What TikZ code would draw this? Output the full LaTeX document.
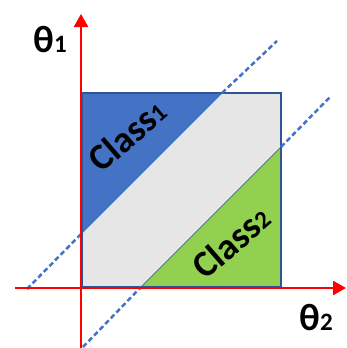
\documentclass[tikz,border=0pt]{standalone}
\usepackage{fontspec}
\setmainfont{Carlito}
\usetikzlibrary{arrows.meta}
\definecolor{cblue}{HTML}{4472C4}
\definecolor{cdark}{HTML}{2F5597}
\definecolor{cgreen}{HTML}{92D050}
\definecolor{cgray}{HTML}{E6E6E6}
\begin{document}
\begin{tikzpicture}[x=1pt,y=-1pt,
  axisline/.style={draw=red,line width=2.5pt,-{Triangle[width=14pt,length=13pt]}},
  boundary/.style={draw=cblue,line width=2.5pt,dash pattern=on 5pt off 3pt},
  edge/.style={draw=cblue,line width=1pt},
  classlabel/.style={font=\bfseries\fontsize{37}{37}\selectfont,rotate=41,inner sep=0pt},
  axislabel/.style={font=\bfseries\fontsize{38}{38}\selectfont,inner sep=0pt}]
\useasboundingbox (0,0) rectangle (347,348);
% square corners
\coordinate (tl) at (82,93);
\coordinate (tr) at (281,93);
\coordinate (br) at (281,287);
\coordinate (bl) at (82,287);
% boundary points
\coordinate (u1) at (82,233);
\coordinate (u2) at (222,93);
\coordinate (l1) at (281,147);
\coordinate (l2) at (141,287);
\coordinate (ua) at (27,289);
\coordinate (ub) at (277,41);
\coordinate (la) at (83,347);
\coordinate (lb) at (330,97);
% fills
\fill[cgray] (tl) rectangle (br);
\fill[cblue] (tl) -- (u2) -- (u1) -- cycle;
\fill[cgreen] (l1) -- (br) -- (l2) -- cycle;
\draw[edge] (u1) -- (u2);
\draw[edge] (l1) -- (l2);
\draw[cdark,line width=2.2pt] (tl) rectangle (br);
% dashed boundaries outside the square
\draw[boundary] (ua) -- (u1);
\draw[boundary] (u2) -- (ub);
\draw[boundary] (la) -- (l2);
\draw[boundary] (l1) -- (lb);
% axes
\coordinate (ybot) at (81,348);
\coordinate (ytop) at (81,14);
\coordinate (xleft) at (15,288);
\coordinate (xright) at (346,288);
\draw[axisline] (ybot) -- (ytop);
\draw[axisline] (xleft) -- (xright);
% labels
\node[axislabel] (t1) at (50,40) {θ\fontsize{25}{25}\selectfont 1};
\node[axislabel] (t2) at (316,318) {θ\fontsize{25}{25}\selectfont 2};
\node[classlabel] (c1) at (127,135) {Class\fontsize{25}{25}\selectfont 1};
\node[classlabel] (c2) at (231,242) {Class\fontsize{25}{25}\selectfont 2};
\end{tikzpicture}
\end{document}
